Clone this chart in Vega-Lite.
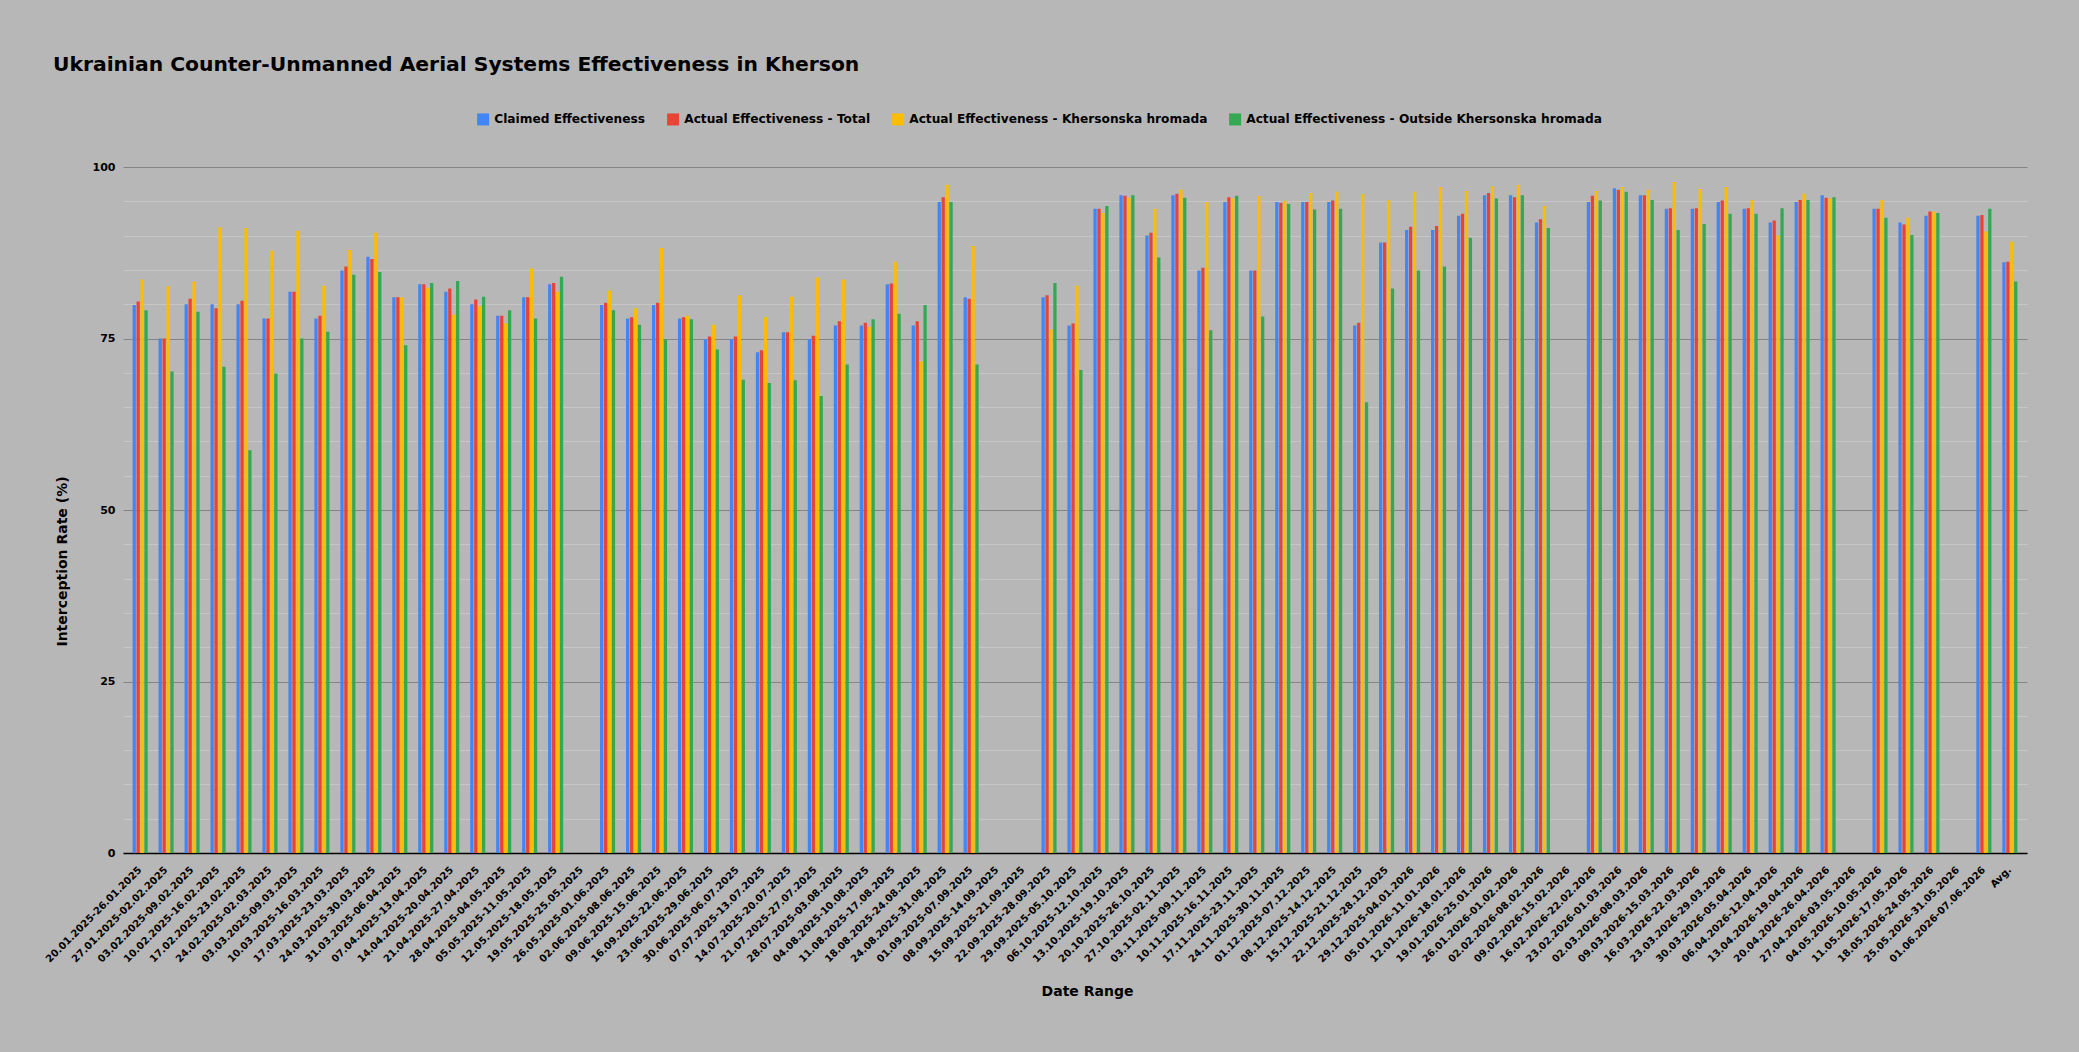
{
  "$schema": "https://vega.github.io/schema/vega-lite/v6.json",
  "description": "Ukrainian Counter-Unmanned Aerial Systems Effectiveness in Kherson, weekly interception rates",
  "background": "#b7b7b7",
  "autosize": {"type": "none"},
  "padding": {"left": 123, "top": 167, "right": 52, "bottom": 199},
  "width": 1904,
  "height": 686,
  "title": {
    "text": "Ukrainian Counter-Unmanned Aerial Systems Effectiveness in Kherson",
    "anchor": "start",
    "frame": "group",
    "dx": -70,
    "dy": -38,
    "offset": 0,
    "font": "DejaVu Sans",
    "fontSize": 20.3,
    "fontWeight": "bold",
    "color": "black"
  },
  "data": {
    "values": [
      {"Week": "20.01.2025-26.01.2025", "Claimed Effectiveness": 79.9, "Actual Effectiveness - Total": 80.4, "Actual Effectiveness - Khersonska hromada": 83.6, "Actual Effectiveness - Outside Khersonska hromada": 79.1},
      {"Week": "27.01.2025-02.02.2025", "Claimed Effectiveness": 75.0, "Actual Effectiveness - Total": 75.0, "Actual Effectiveness - Khersonska hromada": 82.6, "Actual Effectiveness - Outside Khersonska hromada": 70.2},
      {"Week": "03.02.2025-09.02.2025", "Claimed Effectiveness": 80.0, "Actual Effectiveness - Total": 80.8, "Actual Effectiveness - Khersonska hromada": 83.3, "Actual Effectiveness - Outside Khersonska hromada": 78.9},
      {"Week": "10.02.2025-16.02.2025", "Claimed Effectiveness": 80.0, "Actual Effectiveness - Total": 79.4, "Actual Effectiveness - Khersonska hromada": 91.2, "Actual Effectiveness - Outside Khersonska hromada": 70.9},
      {"Week": "17.02.2025-23.02.2025", "Claimed Effectiveness": 80.0, "Actual Effectiveness - Total": 80.5, "Actual Effectiveness - Khersonska hromada": 91.1, "Actual Effectiveness - Outside Khersonska hromada": 58.7},
      {"Week": "24.02.2025-02.03.2025", "Claimed Effectiveness": 77.9, "Actual Effectiveness - Total": 77.9, "Actual Effectiveness - Khersonska hromada": 87.8, "Actual Effectiveness - Outside Khersonska hromada": 69.9},
      {"Week": "03.03.2025-09.03.2025", "Claimed Effectiveness": 81.8, "Actual Effectiveness - Total": 81.8, "Actual Effectiveness - Khersonska hromada": 90.7, "Actual Effectiveness - Outside Khersonska hromada": 75.0},
      {"Week": "10.03.2025-16.03.2025", "Claimed Effectiveness": 77.9, "Actual Effectiveness - Total": 78.3, "Actual Effectiveness - Khersonska hromada": 82.7, "Actual Effectiveness - Outside Khersonska hromada": 76.0},
      {"Week": "17.03.2025-23.03.2025", "Claimed Effectiveness": 84.9, "Actual Effectiveness - Total": 85.5, "Actual Effectiveness - Khersonska hromada": 87.9, "Actual Effectiveness - Outside Khersonska hromada": 84.3},
      {"Week": "24.03.2025-30.03.2025", "Claimed Effectiveness": 86.9, "Actual Effectiveness - Total": 86.6, "Actual Effectiveness - Khersonska hromada": 90.4, "Actual Effectiveness - Outside Khersonska hromada": 84.7},
      {"Week": "31.03.2025-06.04.2025", "Claimed Effectiveness": 81.0, "Actual Effectiveness - Total": 81.0, "Actual Effectiveness - Khersonska hromada": 81.0, "Actual Effectiveness - Outside Khersonska hromada": 74.0},
      {"Week": "07.04.2025-13.04.2025", "Claimed Effectiveness": 82.9, "Actual Effectiveness - Total": 82.9, "Actual Effectiveness - Khersonska hromada": 82.4, "Actual Effectiveness - Outside Khersonska hromada": 83.1},
      {"Week": "14.04.2025-20.04.2025", "Claimed Effectiveness": 81.8, "Actual Effectiveness - Total": 82.3, "Actual Effectiveness - Khersonska hromada": 78.5, "Actual Effectiveness - Outside Khersonska hromada": 83.4},
      {"Week": "21.04.2025-27.04.2025", "Claimed Effectiveness": 80.0, "Actual Effectiveness - Total": 80.7, "Actual Effectiveness - Khersonska hromada": 79.7, "Actual Effectiveness - Outside Khersonska hromada": 81.1},
      {"Week": "28.04.2025-04.05.2025", "Claimed Effectiveness": 78.3, "Actual Effectiveness - Total": 78.3, "Actual Effectiveness - Khersonska hromada": 77.2, "Actual Effectiveness - Outside Khersonska hromada": 79.1},
      {"Week": "05.05.2025-11.05.2025", "Claimed Effectiveness": 81.0, "Actual Effectiveness - Total": 81.0, "Actual Effectiveness - Khersonska hromada": 85.2, "Actual Effectiveness - Outside Khersonska hromada": 77.9},
      {"Week": "12.05.2025-18.05.2025", "Claimed Effectiveness": 82.9, "Actual Effectiveness - Total": 83.1, "Actual Effectiveness - Khersonska hromada": 81.8, "Actual Effectiveness - Outside Khersonska hromada": 84.0},
      {"Week": "26.05.2025-01.06.2025", "Claimed Effectiveness": 79.9, "Actual Effectiveness - Total": 80.2, "Actual Effectiveness - Khersonska hromada": 82.0, "Actual Effectiveness - Outside Khersonska hromada": 79.1},
      {"Week": "02.06.2025-08.06.2025", "Claimed Effectiveness": 77.9, "Actual Effectiveness - Total": 78.1, "Actual Effectiveness - Khersonska hromada": 79.4, "Actual Effectiveness - Outside Khersonska hromada": 77.0},
      {"Week": "09.06.2025-15.06.2025", "Claimed Effectiveness": 79.9, "Actual Effectiveness - Total": 80.2, "Actual Effectiveness - Khersonska hromada": 88.2, "Actual Effectiveness - Outside Khersonska hromada": 74.9},
      {"Week": "16.09.2025-22.06.2025", "Claimed Effectiveness": 77.9, "Actual Effectiveness - Total": 78.1, "Actual Effectiveness - Khersonska hromada": 78.3, "Actual Effectiveness - Outside Khersonska hromada": 77.8},
      {"Week": "23.06.2025-29.06.2025", "Claimed Effectiveness": 74.9, "Actual Effectiveness - Total": 75.3, "Actual Effectiveness - Khersonska hromada": 77.0, "Actual Effectiveness - Outside Khersonska hromada": 73.4},
      {"Week": "30.06.2025-06.07.2025", "Claimed Effectiveness": 74.9, "Actual Effectiveness - Total": 75.3, "Actual Effectiveness - Khersonska hromada": 81.3, "Actual Effectiveness - Outside Khersonska hromada": 69.0},
      {"Week": "07.07.2025-13.07.2025", "Claimed Effectiveness": 73.0, "Actual Effectiveness - Total": 73.3, "Actual Effectiveness - Khersonska hromada": 78.1, "Actual Effectiveness - Outside Khersonska hromada": 68.5},
      {"Week": "14.07.2025-20.07.2025", "Claimed Effectiveness": 75.9, "Actual Effectiveness - Total": 75.9, "Actual Effectiveness - Khersonska hromada": 81.1, "Actual Effectiveness - Outside Khersonska hromada": 68.9},
      {"Week": "21.07.2025-27.07.2025", "Claimed Effectiveness": 74.9, "Actual Effectiveness - Total": 75.4, "Actual Effectiveness - Khersonska hromada": 83.9, "Actual Effectiveness - Outside Khersonska hromada": 66.6},
      {"Week": "28.07.2025-03.08.2025", "Claimed Effectiveness": 76.9, "Actual Effectiveness - Total": 77.5, "Actual Effectiveness - Khersonska hromada": 83.6, "Actual Effectiveness - Outside Khersonska hromada": 71.2},
      {"Week": "04.08.2025-10.08.2025", "Claimed Effectiveness": 76.9, "Actual Effectiveness - Total": 77.3, "Actual Effectiveness - Khersonska hromada": 76.7, "Actual Effectiveness - Outside Khersonska hromada": 77.8},
      {"Week": "11.08.2025-17.08.2025", "Claimed Effectiveness": 82.9, "Actual Effectiveness - Total": 83.0, "Actual Effectiveness - Khersonska hromada": 86.2, "Actual Effectiveness - Outside Khersonska hromada": 78.6},
      {"Week": "18.08.2025-24.08.2025", "Claimed Effectiveness": 76.9, "Actual Effectiveness - Total": 77.5, "Actual Effectiveness - Khersonska hromada": 71.7, "Actual Effectiveness - Outside Khersonska hromada": 79.9},
      {"Week": "24.08.2025-31.08.2025", "Claimed Effectiveness": 94.9, "Actual Effectiveness - Total": 95.6, "Actual Effectiveness - Khersonska hromada": 97.4, "Actual Effectiveness - Outside Khersonska hromada": 94.9},
      {"Week": "01.09.2025-07.09.2025", "Claimed Effectiveness": 81.0, "Actual Effectiveness - Total": 80.8, "Actual Effectiveness - Khersonska hromada": 88.5, "Actual Effectiveness - Outside Khersonska hromada": 71.2},
      {"Week": "22.09.2025-28.09.2025", "Claimed Effectiveness": 81.0, "Actual Effectiveness - Total": 81.3, "Actual Effectiveness - Khersonska hromada": 76.3, "Actual Effectiveness - Outside Khersonska hromada": 83.1},
      {"Week": "29.09.2025-05.10.2025", "Claimed Effectiveness": 76.9, "Actual Effectiveness - Total": 77.2, "Actual Effectiveness - Khersonska hromada": 82.7, "Actual Effectiveness - Outside Khersonska hromada": 70.4},
      {"Week": "06.10.2025-12.10.2025", "Claimed Effectiveness": 93.9, "Actual Effectiveness - Total": 93.9, "Actual Effectiveness - Khersonska hromada": 93.3, "Actual Effectiveness - Outside Khersonska hromada": 94.3},
      {"Week": "13.10.2025-19.10.2025", "Claimed Effectiveness": 95.9, "Actual Effectiveness - Total": 95.8, "Actual Effectiveness - Khersonska hromada": 95.5, "Actual Effectiveness - Outside Khersonska hromada": 95.9},
      {"Week": "20.10.2025-26.10.2025", "Claimed Effectiveness": 90.0, "Actual Effectiveness - Total": 90.4, "Actual Effectiveness - Khersonska hromada": 93.9, "Actual Effectiveness - Outside Khersonska hromada": 86.8},
      {"Week": "27.10.2025-02.11.2025", "Claimed Effectiveness": 95.9, "Actual Effectiveness - Total": 96.1, "Actual Effectiveness - Khersonska hromada": 96.7, "Actual Effectiveness - Outside Khersonska hromada": 95.5},
      {"Week": "03.11.2025-09.11.2025", "Claimed Effectiveness": 84.9, "Actual Effectiveness - Total": 85.3, "Actual Effectiveness - Khersonska hromada": 94.9, "Actual Effectiveness - Outside Khersonska hromada": 76.2},
      {"Week": "10.11.2025-16.11.2025", "Claimed Effectiveness": 94.9, "Actual Effectiveness - Total": 95.6, "Actual Effectiveness - Khersonska hromada": 95.4, "Actual Effectiveness - Outside Khersonska hromada": 95.8},
      {"Week": "17.11.2025-23.11.2025", "Claimed Effectiveness": 84.9, "Actual Effectiveness - Total": 84.9, "Actual Effectiveness - Khersonska hromada": 95.8, "Actual Effectiveness - Outside Khersonska hromada": 78.2},
      {"Week": "24.11.2025-30.11.2025", "Claimed Effectiveness": 94.9, "Actual Effectiveness - Total": 94.8, "Actual Effectiveness - Khersonska hromada": 95.1, "Actual Effectiveness - Outside Khersonska hromada": 94.6},
      {"Week": "01.12.2025-07.12.2025", "Claimed Effectiveness": 94.9, "Actual Effectiveness - Total": 94.9, "Actual Effectiveness - Khersonska hromada": 96.2, "Actual Effectiveness - Outside Khersonska hromada": 93.8},
      {"Week": "08.12.2025-14.12.2025", "Claimed Effectiveness": 94.9, "Actual Effectiveness - Total": 95.1, "Actual Effectiveness - Khersonska hromada": 96.4, "Actual Effectiveness - Outside Khersonska hromada": 93.9},
      {"Week": "15.12.2025-21.12.2025", "Claimed Effectiveness": 76.9, "Actual Effectiveness - Total": 77.3, "Actual Effectiveness - Khersonska hromada": 96.1, "Actual Effectiveness - Outside Khersonska hromada": 65.7},
      {"Week": "22.12.2025-28.12.2025", "Claimed Effectiveness": 89.0, "Actual Effectiveness - Total": 89.0, "Actual Effectiveness - Khersonska hromada": 95.2, "Actual Effectiveness - Outside Khersonska hromada": 82.3},
      {"Week": "29.12.2025-04.01.2026", "Claimed Effectiveness": 90.8, "Actual Effectiveness - Total": 91.3, "Actual Effectiveness - Khersonska hromada": 96.4, "Actual Effectiveness - Outside Khersonska hromada": 84.9},
      {"Week": "05.01.2026-11.01.2026", "Claimed Effectiveness": 90.8, "Actual Effectiveness - Total": 91.4, "Actual Effectiveness - Khersonska hromada": 97.1, "Actual Effectiveness - Outside Khersonska hromada": 85.5},
      {"Week": "12.01.2026-18.01.2026", "Claimed Effectiveness": 92.9, "Actual Effectiveness - Total": 93.2, "Actual Effectiveness - Khersonska hromada": 96.5, "Actual Effectiveness - Outside Khersonska hromada": 89.7},
      {"Week": "19.01.2026-25.01.2026", "Claimed Effectiveness": 95.9, "Actual Effectiveness - Total": 96.2, "Actual Effectiveness - Khersonska hromada": 97.2, "Actual Effectiveness - Outside Khersonska hromada": 95.4},
      {"Week": "26.01.2026-01.02.2026", "Claimed Effectiveness": 95.9, "Actual Effectiveness - Total": 95.6, "Actual Effectiveness - Khersonska hromada": 97.4, "Actual Effectiveness - Outside Khersonska hromada": 95.9},
      {"Week": "02.02.2026-08.02.2026", "Claimed Effectiveness": 91.9, "Actual Effectiveness - Total": 92.4, "Actual Effectiveness - Khersonska hromada": 94.3, "Actual Effectiveness - Outside Khersonska hromada": 91.1},
      {"Week": "16.02.2026-22.02.2026", "Claimed Effectiveness": 94.9, "Actual Effectiveness - Total": 95.8, "Actual Effectiveness - Khersonska hromada": 96.5, "Actual Effectiveness - Outside Khersonska hromada": 95.1},
      {"Week": "23.02.2026-01.03.2026", "Claimed Effectiveness": 96.9, "Actual Effectiveness - Total": 96.7, "Actual Effectiveness - Khersonska hromada": 97.1, "Actual Effectiveness - Outside Khersonska hromada": 96.4},
      {"Week": "02.03.2026-08.03.2026", "Claimed Effectiveness": 95.9, "Actual Effectiveness - Total": 95.9, "Actual Effectiveness - Khersonska hromada": 96.7, "Actual Effectiveness - Outside Khersonska hromada": 95.2},
      {"Week": "09.03.2026-15.03.2026", "Claimed Effectiveness": 93.9, "Actual Effectiveness - Total": 94.0, "Actual Effectiveness - Khersonska hromada": 97.8, "Actual Effectiveness - Outside Khersonska hromada": 90.8},
      {"Week": "16.03.2026-22.03.2026", "Claimed Effectiveness": 93.9, "Actual Effectiveness - Total": 94.0, "Actual Effectiveness - Khersonska hromada": 96.8, "Actual Effectiveness - Outside Khersonska hromada": 91.7},
      {"Week": "23.03.2026-29.03.2026", "Claimed Effectiveness": 94.9, "Actual Effectiveness - Total": 95.1, "Actual Effectiveness - Khersonska hromada": 97.1, "Actual Effectiveness - Outside Khersonska hromada": 93.2},
      {"Week": "30.03.2026-05.04.2026", "Claimed Effectiveness": 93.9, "Actual Effectiveness - Total": 94.0, "Actual Effectiveness - Khersonska hromada": 95.2, "Actual Effectiveness - Outside Khersonska hromada": 93.2},
      {"Week": "06.04.2026-12.04.2026", "Claimed Effectiveness": 91.9, "Actual Effectiveness - Total": 92.2, "Actual Effectiveness - Khersonska hromada": 90.0, "Actual Effectiveness - Outside Khersonska hromada": 94.0},
      {"Week": "13.04.2026-19.04.2026", "Claimed Effectiveness": 94.9, "Actual Effectiveness - Total": 95.2, "Actual Effectiveness - Khersonska hromada": 96.1, "Actual Effectiveness - Outside Khersonska hromada": 95.2},
      {"Week": "20.04.2026-26.04.2026", "Claimed Effectiveness": 95.9, "Actual Effectiveness - Total": 95.5, "Actual Effectiveness - Khersonska hromada": 95.4, "Actual Effectiveness - Outside Khersonska hromada": 95.6},
      {"Week": "04.05.2026-10.05.2026", "Claimed Effectiveness": 93.9, "Actual Effectiveness - Total": 93.9, "Actual Effectiveness - Khersonska hromada": 95.2, "Actual Effectiveness - Outside Khersonska hromada": 92.6},
      {"Week": "11.05.2026-17.05.2026", "Claimed Effectiveness": 91.9, "Actual Effectiveness - Total": 91.6, "Actual Effectiveness - Khersonska hromada": 92.6, "Actual Effectiveness - Outside Khersonska hromada": 90.1},
      {"Week": "18.05.2026-24.05.2026", "Claimed Effectiveness": 92.9, "Actual Effectiveness - Total": 93.5, "Actual Effectiveness - Khersonska hromada": 93.5, "Actual Effectiveness - Outside Khersonska hromada": 93.3},
      {"Week": "01.06.2026-07.06.2026", "Claimed Effectiveness": 92.9, "Actual Effectiveness - Total": 93.0, "Actual Effectiveness - Khersonska hromada": 90.6, "Actual Effectiveness - Outside Khersonska hromada": 93.9},
      {"Week": "Avg.", "Claimed Effectiveness": 86.1, "Actual Effectiveness - Total": 86.2, "Actual Effectiveness - Khersonska hromada": 89.1, "Actual Effectiveness - Outside Khersonska hromada": 83.3}
    ]
  },
  "transform": [
    {
      "fold": [
        "Claimed Effectiveness",
        "Actual Effectiveness - Total",
        "Actual Effectiveness - Khersonska hromada",
        "Actual Effectiveness - Outside Khersonska hromada"
      ],
      "as": ["Series", "Rate"]
    }
  ],
  "mark": {"type": "bar", "tooltip": true},
  "encoding": {
    "x": {
      "field": "Week",
      "type": "nominal",
      "sort": null,
      "title": "Date Range",
      "scale": {
        "domain": [
          "20.01.2025-26.01.2025", "27.01.2025-02.02.2025", "03.02.2025-09.02.2025", "10.02.2025-16.02.2025",
          "17.02.2025-23.02.2025", "24.02.2025-02.03.2025", "03.03.2025-09.03.2025", "10.03.2025-16.03.2025",
          "17.03.2025-23.03.2025", "24.03.2025-30.03.2025", "31.03.2025-06.04.2025", "07.04.2025-13.04.2025",
          "14.04.2025-20.04.2025", "21.04.2025-27.04.2025", "28.04.2025-04.05.2025", "05.05.2025-11.05.2025",
          "12.05.2025-18.05.2025", "19.05.2025-25.05.2025", "26.05.2025-01.06.2025", "02.06.2025-08.06.2025",
          "09.06.2025-15.06.2025", "16.09.2025-22.06.2025", "23.06.2025-29.06.2025", "30.06.2025-06.07.2025",
          "07.07.2025-13.07.2025", "14.07.2025-20.07.2025", "21.07.2025-27.07.2025", "28.07.2025-03.08.2025",
          "04.08.2025-10.08.2025", "11.08.2025-17.08.2025", "18.08.2025-24.08.2025", "24.08.2025-31.08.2025",
          "01.09.2025-07.09.2025", "08.09.2025-14.09.2025", "15.09.2025-21.09.2025", "22.09.2025-28.09.2025",
          "29.09.2025-05.10.2025", "06.10.2025-12.10.2025", "13.10.2025-19.10.2025", "20.10.2025-26.10.2025",
          "27.10.2025-02.11.2025", "03.11.2025-09.11.2025", "10.11.2025-16.11.2025", "17.11.2025-23.11.2025",
          "24.11.2025-30.11.2025", "01.12.2025-07.12.2025", "08.12.2025-14.12.2025", "15.12.2025-21.12.2025",
          "22.12.2025-28.12.2025", "29.12.2025-04.01.2026", "05.01.2026-11.01.2026", "12.01.2026-18.01.2026",
          "19.01.2026-25.01.2026", "26.01.2026-01.02.2026", "02.02.2026-08.02.2026", "09.02.2026-15.02.2026",
          "16.02.2026-22.02.2026", "23.02.2026-01.03.2026", "02.03.2026-08.03.2026", "09.03.2026-15.03.2026",
          "16.03.2026-22.03.2026", "23.03.2026-29.03.2026", "30.03.2026-05.04.2026", "06.04.2026-12.04.2026",
          "13.04.2026-19.04.2026", "20.04.2026-26.04.2026", "27.04.2026-03.05.2026", "04.05.2026-10.05.2026",
          "11.05.2026-17.05.2026", "18.05.2026-24.05.2026", "25.05.2026-31.05.2026", "01.06.2026-07.06.2026",
          "Avg."
        ],
        "paddingInner": 0.42,
        "paddingOuter": 0.37
      },
      "axis": {
        "labelAngle": -45,
        "labelAlign": "right",
        "labelBaseline": "middle",
        "labelPadding": 15,
        "labelFont": "DejaVu Sans",
        "labelFontSize": 10,
        "labelFontWeight": "bold",
        "labelColor": "black",
        "labelOverlap": false,
        "ticks": false,
        "grid": false,
        "domainColor": "black",
        "domainWidth": 1.5,
        "titleFont": "DejaVu Sans",
        "titleFontSize": 14,
        "titleFontWeight": "bold",
        "titleColor": "black",
        "titleX": 964,
        "titleY": 142,
        "titleBaseline": "alphabetic"
      }
    },
    "xOffset": {
      "field": "Series",
      "type": "nominal",
      "scale": {
        "domain": [
          "Claimed Effectiveness",
          "Actual Effectiveness - Total",
          "Actual Effectiveness - Khersonska hromada",
          "Actual Effectiveness - Outside Khersonska hromada"
        ],
        "paddingInner": 0.17,
        "paddingOuter": 0
      }
    },
    "y": {
      "field": "Rate",
      "type": "quantitative",
      "title": "Interception Rate (%)",
      "scale": {"domain": [0, 100], "nice": false},
      "axis": {
        "values": [0, 5, 10, 15, 20, 25, 30, 35, 40, 45, 50, 55, 60, 65, 70, 75, 80, 85, 90, 95, 100],
        "labelExpr": "datum.value % 25 === 0 ? datum.label : ''",
        "labelFont": "DejaVu Sans",
        "labelFontSize": 11,
        "labelFontWeight": "bold",
        "labelColor": "black",
        "labelPadding": 8,
        "ticks": false,
        "domain": false,
        "gridColor": {"condition": {"test": "datum.value % 25 === 0", "value": "#858585"}, "value": "#c6c6c6"},
        "gridWidth": 1,
        "titleFont": "DejaVu Sans",
        "titleFontSize": 14,
        "titleFontWeight": "bold",
        "titleColor": "black",
        "titleX": -57,
        "titleY": 394,
        "titleBaseline": "alphabetic"
      }
    },
    "color": {
      "field": "Series",
      "type": "nominal",
      "scale": {
        "domain": [
          "Claimed Effectiveness",
          "Actual Effectiveness - Total",
          "Actual Effectiveness - Khersonska hromada",
          "Actual Effectiveness - Outside Khersonska hromada"
        ],
        "range": ["#4285f4", "#ea4335", "#fbbc04", "#34a853"]
      },
      "legend": {
        "title": null,
        "orient": "none",
        "direction": "horizontal",
        "legendX": 354,
        "legendY": -54,
        "symbolType": "square",
        "symbolSize": 144,
        "symbolStrokeWidth": 0,
        "symbolOpacity": 1,
        "labelFont": "DejaVu Sans",
        "labelFontSize": 12.2,
        "labelFontWeight": "bold",
        "labelColor": "black",
        "labelOffset": 5,
        "labelLimit": 0,
        "columnPadding": 21
      }
    }
  },
  "config": {
    "view": {"stroke": null}
  }
}
